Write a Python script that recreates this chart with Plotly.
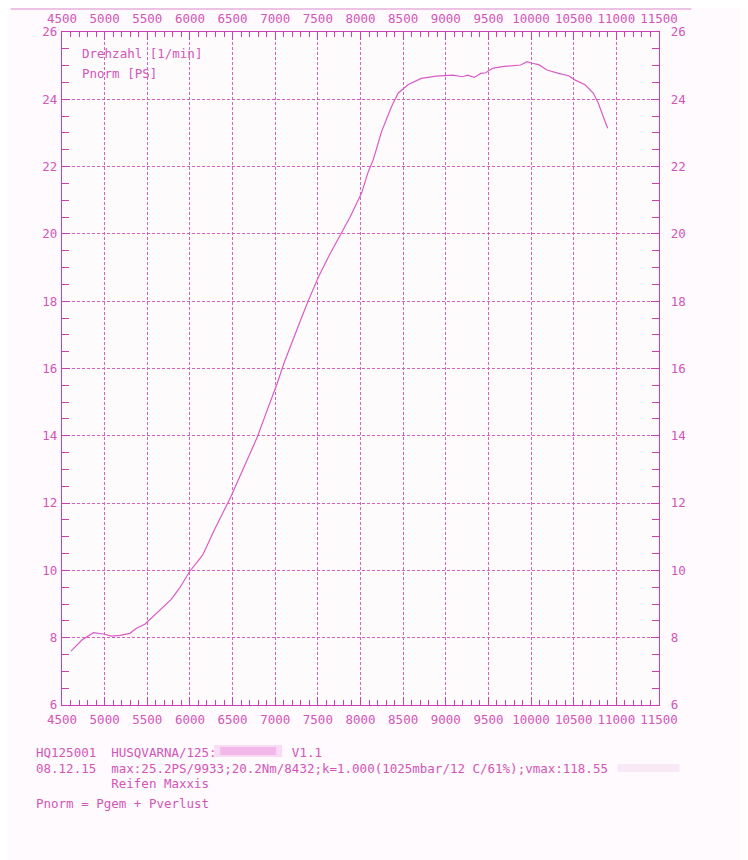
import plotly.graph_objects as go

# ---- data read from the dyno sheet ----
rpm = [4605, 4733, 4869, 4985, 5082, 5179, 5296, 5373, 5471, 5606, 5703, 5781,
       5878, 5995, 6150, 6286, 6480, 6635, 6791, 6907, 7024, 7101, 7217, 7313,
       7392, 7508, 7645, 7761, 7878, 8014, 8091, 8149, 8247, 8363, 8441, 8557,
       8712, 8887, 9042, 9081, 9197, 9256, 9333, 9411, 9469, 9547, 9663, 9799,
       9877, 9954, 10012, 10090, 10187, 10323, 10440, 10518, 10634, 10731,
       10789, 10847, 10898]
pnorm = [7.60, 7.93, 8.15, 8.11, 8.05, 8.07, 8.13, 8.28, 8.40, 8.72, 8.97, 9.14,
         9.47, 9.96, 10.46, 11.20, 12.19, 13.08, 13.97, 14.77, 15.56, 16.15, 16.94, 17.54,
         18.04, 18.73, 19.42, 19.97, 20.50, 21.22, 21.85, 22.20, 23.04, 23.78, 24.18, 24.43,
         24.62, 24.69, 24.70, 24.72, 24.67, 24.72, 24.65, 24.77, 24.79, 24.92, 24.97, 24.99,
         25.02, 25.12, 25.07, 25.03, 24.87, 24.77, 24.70, 24.57, 24.43, 24.18,
         23.88, 23.48, 23.14]

x_ticks = [4500, 5000, 5500, 6000, 6500, 7000, 7500, 8000, 8500, 9000, 9500,
           10000, 10500, 11000, 11500]
y_ticks = [6, 8, 10, 12, 14, 16, 18, 20, 22, 24, 26]

legend_lines = ["Drehzahl [1/min]", "Pnorm [PS]"]
footer_lines = [
    "HQ125001  HUSQVARNA/125:          V1.1",
    "08.12.15  max:25.2PS/9933;20.2Nm/8432;k=1.000(1025mbar/12 C/61%);vmax:118.55",
    "          Reifen Maxxis",
    "",
    "Pnorm = Pgem + Pverlust",
]

# ---- style ----
OFF = 8                      # page body margin
W, H = 740, 852
L, R, T, B = 53.5, 88.5, 24, 155
FONT = "DejaVu Sans Mono"
TXT = "#d256b8"
AX = "#cc3fae"
GRID = "#d562bf"
CURVE = "#d85cc6"

def px(xp):
    return (xp - OFF - L) / (W - L - R)

def py(yp):
    return (H - B - (yp - OFF)) / (H - T - B)

fig = go.Figure()
fig.add_trace(go.Scatter(x=rpm, y=pnorm, mode="lines",
                         line=dict(color=CURVE, width=1.2),
                         showlegend=False, hoverinfo="skip"))
# helper trace so the top/right label axes render
fig.add_trace(go.Scatter(x=[x_ticks[0]], y=[y_ticks[0]], xaxis="x2", yaxis="y2",
                         mode="markers", marker=dict(opacity=0),
                         showlegend=False, hoverinfo="skip"))

common_x = dict(range=[x_ticks[0], x_ticks[-1]], tickvals=x_ticks,
                ticktext=[str(v) for v in x_ticks],
                ticks="inside", ticklen=8, tickcolor=AX, tickwidth=1,
                showline=True, linecolor=AX, linewidth=1.3,
                tickfont=dict(family=FONT, size=12.5, color=TXT),
                minor=dict(dtick=100, tick0=4500, ticks="inside", ticklen=5,
                           tickcolor=AX, tickwidth=1, showgrid=False),
                zeroline=False, automargin=False)
common_y = dict(range=[y_ticks[0], y_ticks[-1]], tickvals=y_ticks,
                ticktext=[str(v) for v in y_ticks],
                ticks="inside", ticklen=8, tickcolor=AX, tickwidth=1,
                showline=True, linecolor=AX, linewidth=1.3,
                tickfont=dict(family=FONT, size=12.5, color=TXT),
                minor=dict(dtick=0.5, tick0=6, ticks="inside", ticklen=7,
                           tickcolor=AX, tickwidth=1, showgrid=False),
                zeroline=False, automargin=False)

fig.update_layout(
    width=W, height=H,
    margin=dict(l=L, r=R, t=T, b=B, autoexpand=False),
    paper_bgcolor="#fefafd",
    plot_bgcolor="#fefbfd",
    xaxis=dict(**common_x, side="bottom", showgrid=True, gridcolor=GRID,
               gridwidth=1, griddash="3px,2px", ticklabelstandoff=3),
    xaxis2=dict(**common_x, side="top", overlaying="x", showgrid=False,
                ticklabelstandoff=3),
    yaxis=dict(**common_y, side="left", showgrid=True, gridcolor=GRID,
               gridwidth=1, griddash="3px,2px", ticklabelstandoff=1),
    yaxis2=dict(**common_y, side="right", overlaying="y", showgrid=False,
                ticklabelstandoff=8),
    showlegend=False,
)

ann = []
for i, t in enumerate(legend_lines):
    ann.append(dict(text=t, xref="paper", yref="paper", x=px(80), y=py(53 + i * 20),
                    xanchor="left", yanchor="middle", showarrow=False,
                    font=dict(family=FONT, size=12.5, color=TXT)))
foot_y = [752, 768, 783, 0, 803]
for t, yy in zip(footer_lines, foot_y):
    if not t:
        continue
    ann.append(dict(text=t.replace(" ", "&nbsp;"), xref="paper", yref="paper",
                    x=px(33), y=py(yy), xanchor="left", yanchor="middle",
                    showarrow=False, font=dict(family=FONT, size=12.5, color=TXT)))
fig.update_layout(annotations=ann)

shapes = [
    # top edge line of the sheet
    dict(type="line", xref="paper", yref="paper", x0=px(10), x1=px(692),
         y0=py(9), y1=py(9), line=dict(color="#d98ccd", width=1)),
    # redaction blur
    dict(type="rect", xref="paper", yref="paper", x0=px(214), x1=px(282),
         y0=py(745), y1=py(757), fillcolor="rgba(240,160,225,0.35)",
         line=dict(width=0), layer="above"),
    dict(type="rect", xref="paper", yref="paper", x0=px(220), x1=px(276),
         y0=py(747), y1=py(755), fillcolor="rgba(236,150,222,0.5)",
         line=dict(width=0), layer="above"),
    dict(type="rect", xref="paper", yref="paper", x0=px(618), x1=px(680),
         y0=py(764), y1=py(772), fillcolor="rgba(240,200,235,0.35)",
         line=dict(width=0), layer="above"),
]
fig.update_layout(shapes=shapes)

fig.write_html("out.html")
